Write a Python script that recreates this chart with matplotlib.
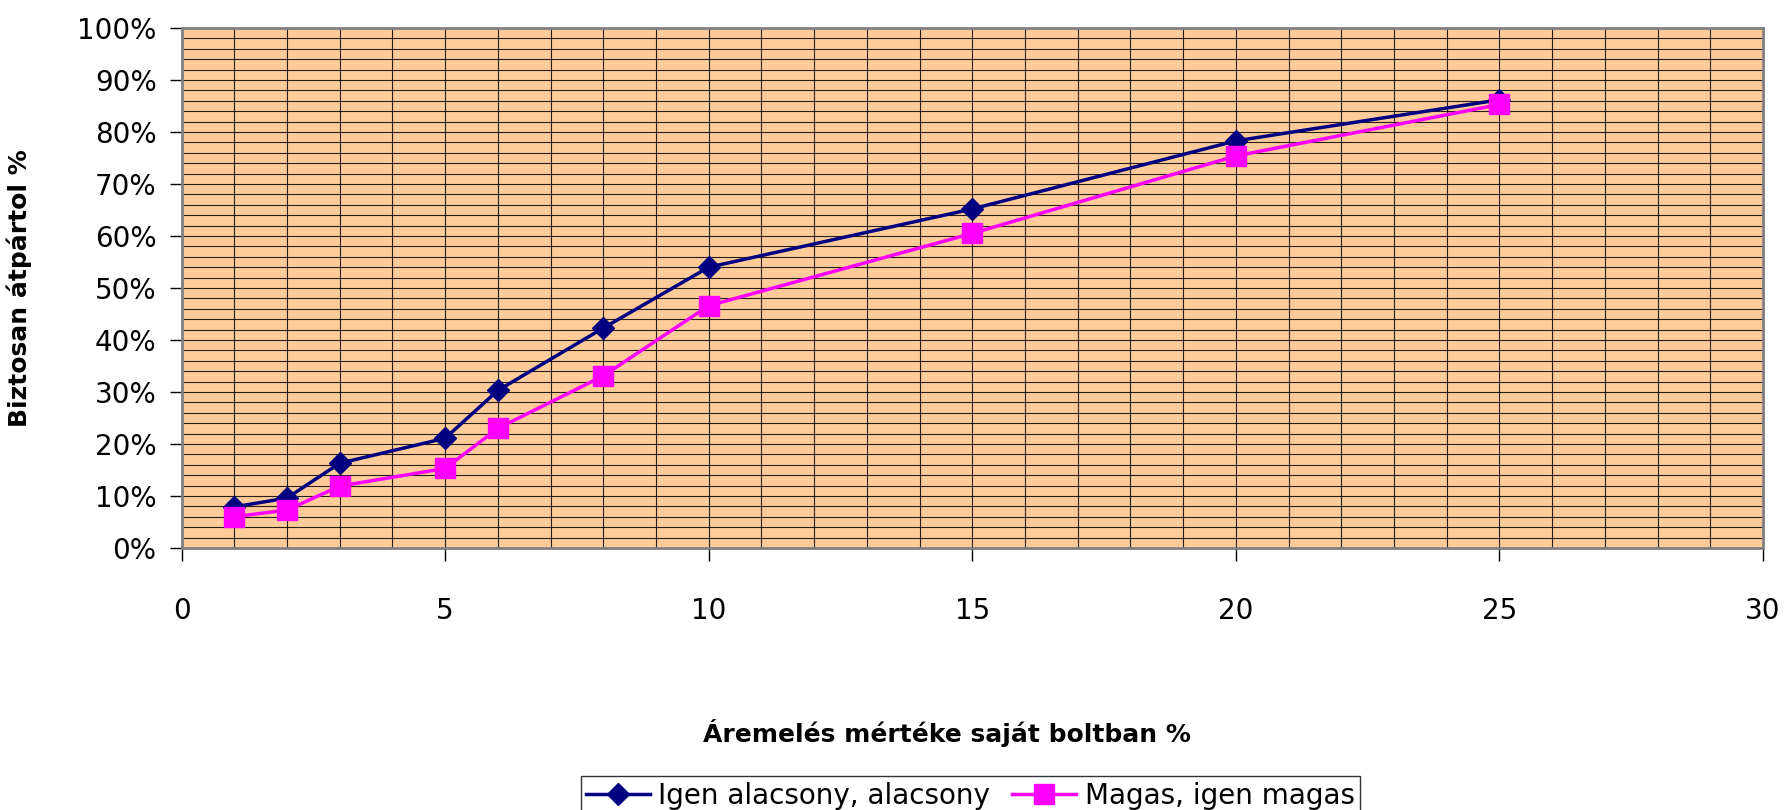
import matplotlib
matplotlib.use("Agg")
import matplotlib.pyplot as plt
from matplotlib.ticker import MultipleLocator, FuncFormatter

# price increase in own shop (%)
price_rise = [1, 2, 3, 5, 6, 8, 10, 15, 20, 25]
# share who would certainly switch shops
low_group = [0.079, 0.096, 0.163, 0.211, 0.303, 0.423, 0.540, 0.652, 0.783, 0.862]
high_group = [0.060, 0.073, 0.119, 0.153, 0.230, 0.331, 0.466, 0.605, 0.754, 0.853]

series_names = ["Igen alacsony, alacsony", "Magas, igen magas"]
x_title = "Áremelés mértéke saját boltban %"
y_title = "Biztosan átpártol %"

fig = plt.figure(figsize=(17.87, 8.10), dpi=100)
ax = fig.add_axes([0.1016, 0.3235, 0.8850, 0.6419])
ax.set_facecolor("#FFCC99")

# second series is drawn over the first
ax.plot(price_rise, low_group, color="#000080", lw=2.5, marker="D", ms=11,
        label=series_names[0], zorder=3)
ax.plot(price_rise, high_group, color="#FF00FF", lw=2.5, marker="s", ms=14,
        label=series_names[1], zorder=4)

ax.set_xlim(0, 30)
ax.set_ylim(0, 1)
ax.xaxis.set_major_locator(MultipleLocator(5))
ax.xaxis.set_minor_locator(MultipleLocator(1))
ax.yaxis.set_major_locator(MultipleLocator(0.1))
ax.yaxis.set_minor_locator(MultipleLocator(0.02))
ax.yaxis.set_major_formatter(FuncFormatter(lambda v, _: f"{v * 100:.0f}%"))

# dense grid: every unit on x, every 2% on y
ax.grid(which="both", axis="both", color="black", lw=0.8, alpha=0.85)
ax.set_axisbelow(True)

ax.tick_params(axis="y", which="major", length=9, width=1, labelsize=20, pad=9)
ax.tick_params(axis="x", which="major", length=9, width=1, labelsize=20, pad=26)
ax.tick_params(which="minor", length=0)

for side in ax.spines.values():
    side.set_color("#808080")
    side.set_linewidth(2)

ax.set_xlabel(x_title, fontsize=18, fontweight="bold")
ax.set_ylabel(y_title, fontsize=18, fontweight="bold")
ax.xaxis.set_label_coords(0.484, -0.329)
ax.yaxis.set_label_coords(-0.0945, 0.5)

fig.legend(loc="upper center", bbox_to_anchor=(0.543, 0.042), ncol=2,
           fontsize=20, frameon=True, fancybox=False, edgecolor="black",
           handlelength=2.3, handletextpad=0.3, columnspacing=0.8,
           borderpad=0.2, borderaxespad=0)

fig.savefig("out.png", dpi=100)
